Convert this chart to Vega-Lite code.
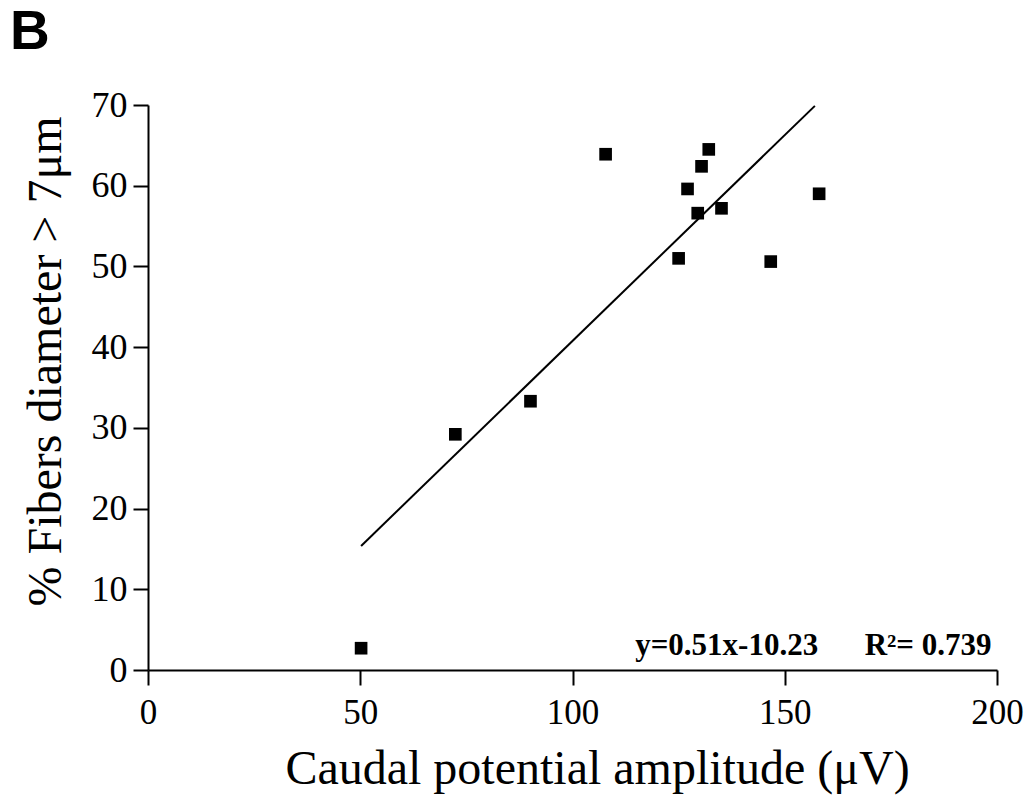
{
  "$schema": "https://vega.github.io/schema/vega-lite/v6.json",
  "autosize": "none",
  "width": 849,
  "height": 565,
  "padding": {"left": 148, "top": 105, "right": 35, "bottom": 128},
  "background": "white",
  "title": {"text": "B", "anchor": "start", "frame": "group", "font": "Liberation Sans", "fontWeight": "bold", "fontSize": 55, "color": "black", "dx": -138, "dy": -26, "baseline": "top", "offset": 0},
  "config": {"view": {"stroke": null}},
  "datasets": {
    "points": [
      {"amp": 50.2, "pct": 2.7},
      {"amp": 72.4, "pct": 29.2},
      {"amp": 90.1, "pct": 33.3},
      {"amp": 107.8, "pct": 63.9},
      {"amp": 125.0, "pct": 51.0},
      {"amp": 127.1, "pct": 59.6},
      {"amp": 129.5, "pct": 56.6},
      {"amp": 130.4, "pct": 62.4},
      {"amp": 132.1, "pct": 64.5},
      {"amp": 135.1, "pct": 57.2},
      {"amp": 146.7, "pct": 50.6},
      {"amp": 158.1, "pct": 59.0}
    ],
    "fit": [
      {"amp": 50.2, "pct": 15.37},
      {"amp": 157.1, "pct": 69.89}
    ],
    "note": [
      {"amp": 198.7, "pct": 0, "label": "y=0.51x-10.23\u00a0\u00a0\u00a0\u00a0\u00a0\u00a0R²= 0.739"}
    ]
  },
  "layer": [
    {
      "data": {"name": "fit"},
      "mark": {"type": "line", "color": "black", "strokeWidth": 2},
      "encoding": {
        "x": {"field": "amp", "type": "quantitative", "scale": {"domain": [0, 200], "nice": false},
          "axis": {"title": "Caudal potential amplitude (μV)", "values": [0, 50, 100, 150, 200], "grid": false,
            "domainColor": "black", "domainWidth": 2, "tickColor": "black", "tickWidth": 2, "tickSize": 15,
            "labelFont": "Liberation Serif", "labelFontSize": 35, "labelColor": "black", "labelPadding": 10, "labelFlush": false,
            "titleFont": "Liberation Serif", "titleFontSize": 48, "titleFontWeight": "normal", "titleColor": "black",
            "titleX": 449, "titleY": 113, "titleBaseline": "alphabetic", "titleAlign": "center"}},
        "y": {"field": "pct", "type": "quantitative", "scale": {"domain": [0, 70], "nice": false},
          "axis": {"title": "% Fibers diameter > 7μm", "values": [0, 10, 20, 30, 40, 50, 60, 70], "grid": false,
            "domainColor": "black", "domainWidth": 2, "tickColor": "black", "tickWidth": 2, "tickSize": 15,
            "labelFont": "Liberation Serif", "labelFontSize": 36, "labelColor": "black", "labelPadding": 6, "labelFlush": false,
            "titleFont": "Liberation Serif", "titleFontSize": 48, "titleFontWeight": "normal", "titleColor": "black",
            "titleX": -88, "titleY": 256, "titleAngle": -90, "titleBaseline": "alphabetic", "titleAlign": "center"}}
      }
    },
    {
      "data": {"name": "points"},
      "mark": {"type": "point", "shape": "square", "filled": true, "color": "black", "size": 160, "opacity": 1},
      "encoding": {
        "x": {"field": "amp", "type": "quantitative"},
        "y": {"field": "pct", "type": "quantitative"}
      }
    },
    {
      "data": {"name": "note"},
      "mark": {"type": "text", "align": "right", "baseline": "alphabetic", "font": "Liberation Serif", "fontWeight": "bold", "fontSize": 31, "color": "black", "dy": -15},
      "encoding": {
        "x": {"field": "amp", "type": "quantitative"},
        "y": {"field": "pct", "type": "quantitative"},
        "text": {"field": "label"}
      }
    }
  ]
}
